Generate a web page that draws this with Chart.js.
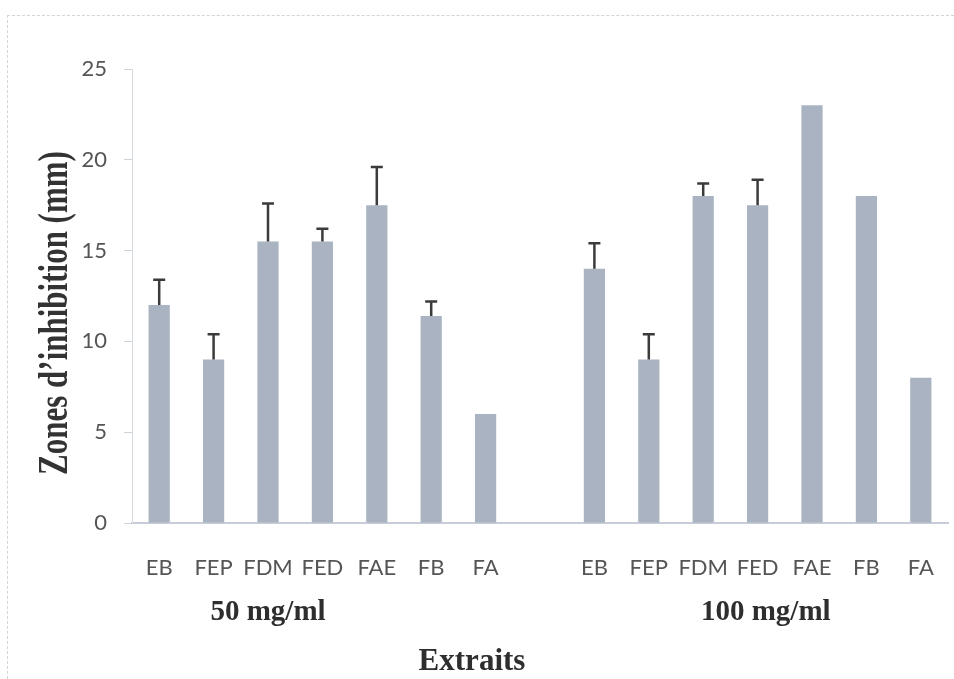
<!DOCTYPE html>
<html>
<head>
<meta charset="utf-8">
<script src="https://cdn.jsdelivr.net/npm/chart.js@4/dist/chart.umd.min.js"></script>
<style>
  html, body { margin: 0; padding: 0; background: #fff; }
  #wrap { position: relative; width: 954px; height: 679px; }
  #frame {
    position: absolute; left: 7px; top: 15px; right: 0; bottom: 0;
    border-left: 1px dashed #d4d4d4; border-top: 1px dashed #d4d4d4;
  }
  #inhibitionChart { position: absolute; left: 0; top: 0; }
</style>
</head>
<body>
<div id="wrap">
  <div id="frame"></div>
  <canvas id="inhibitionChart" width="954" height="679"></canvas>
</div>
<script>
/* ------------------------------------------------------------------ */
/*  Data                                          */
/* ------------------------------------------------------------------ */

var EXTRACTS = ['EB', 'FEP', 'FDM', 'FED', 'FAE', 'FB', 'FA'];

// inhibition zone (mm), 50 mg/ml then 100 mg/ml
var ZONES_50 = [12, 9, 15.5, 15.5, 17.5, 11.4, 6];
var ZONES_100 = [14, 9, 18, 17.5, 23, 18, 8];

// upper error bar lengths (mm)
var ERRORS_50 = [1.4, 1.4, 2.1, 0.7, 2.1, 0.8, 0];
var ERRORS_100 = [1.4, 1.4, 0.7, 1.4, 0, 0, 0];

var GROUP_LABELS = ['50 mg/ml', '100 mg/ml'];
var Y_TICKS = [0, 5, 10, 15, 20, 25];

/* ------------------------------------------------------------------ */
/*  Build category axis: two groups with one empty slot between       */
/* ------------------------------------------------------------------ */

var labels = EXTRACTS.concat(['']).concat(EXTRACTS);
var values = ZONES_50.concat([null]).concat(ZONES_100);
var errors = ERRORS_50.concat([0]).concat(ERRORS_100);

var TICK_FONT = { family: 'Lato', size: 22 };
var SERIF = '"Liberation Serif", "Times New Roman", serif';

/** Upper-only error bars drawn through the chart's own scales. */
var errorBarPlugin = {
  id: 'errorBars',
  afterDatasetsDraw: function (chart) {
    var xs = chart.scales.x, ys = chart.scales.y, ctx = chart.ctx;
    ctx.save();
    ctx.strokeStyle = '#3b3b3b';
    ctx.lineWidth = 2.5;
    values.forEach(function (v, i) {
      if (v === null || !errors[i]) return;
      var x = xs.getPixelForValue(i);
      var y0 = ys.getPixelForValue(v);
      var y1 = ys.getPixelForValue(v + errors[i]);
      ctx.beginPath();
      ctx.moveTo(x, y0);
      ctx.lineTo(x, y1);
      ctx.moveTo(x - 6, y1);
      ctx.lineTo(x + 6, y1);
      ctx.stroke();
    });
    ctx.restore();
  },
};

/** Group captions, x title and the (condensed) y title. */
var captionPlugin = {
  id: 'captions',
  afterDraw: function (chart) {
    var xs = chart.scales.x, area = chart.chartArea, ctx = chart.ctx;
    ctx.save();
    ctx.fillStyle = '#2e2e2e';
    ctx.textAlign = 'center';
    ctx.textBaseline = 'alphabetic';

    ctx.font = 'bold 29px ' + SERIF;
    ctx.fillText(GROUP_LABELS[0], xs.getPixelForValue(2), area.bottom + 97);
    ctx.fillText(GROUP_LABELS[1], xs.getPixelForValue(11.15), area.bottom + 97);

    ctx.font = 'bold 31px ' + SERIF;
    ctx.fillText('Extraits', xs.getPixelForValue(5.75), area.bottom + 147);

    ctx.translate(67, (area.top + area.bottom) / 2 + 17);
    ctx.rotate(-Math.PI / 2);
    ctx.scale(1, 1.35);
    ctx.fillStyle = '#333333';
    ctx.font = 'bold 31px ' + SERIF;
    ctx.fillText('Zones d\u2019inhibition (mm)', 0, 0);
    ctx.restore();
  },
};

new Chart(document.getElementById('inhibitionChart').getContext('2d'), {
  type: 'bar',
  data: {
    labels: labels,
    datasets: [{
      data: values,
      backgroundColor: '#a9b3c2',
      borderWidth: 0,
      categoryPercentage: 1,
      barPercentage: 0.39,
    }],
  },
  options: {
    responsive: false,
    animation: false,
    layout: { padding: { top: 69, right: 6, left: 0, bottom: 0 } },
    plugins: {
      legend: { display: false },
      tooltip: { enabled: false },
    },
    scales: {
      x: {
        grid: { display: false, drawTicks: false },
        border: { display: true, color: '#c6cdd8', width: 2 },
        ticks: { font: TICK_FONT, color: '#555555', padding: 32, maxRotation: 0, autoSkip: false },
        afterFit: function (scale) {
          scale.height = 156;
          scale.paddingLeft = 0;
          scale.paddingRight = 0;
        },
      },
      y: {
        min: 0,
        max: 25,
        afterBuildTicks: function (scale) {
          scale.ticks = Y_TICKS.map(function (v) { return { value: v }; });
        },
        grid: { drawOnChartArea: false, drawTicks: true, tickLength: 8, color: '#cfd4dc' },
        border: { display: true, color: '#d6dbe2', width: 1 },
        ticks: { font: TICK_FONT, color: '#555555', padding: 17 },
        afterFit: function (scale) { scale.width = 132; },
      },
    },
  },
  plugins: [errorBarPlugin, captionPlugin],
});
</script>
</body>
</html>
